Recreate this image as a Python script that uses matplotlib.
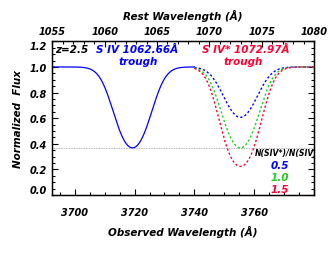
import numpy as np
import matplotlib
matplotlib.use("Agg")
import matplotlib.pyplot as plt
from matplotlib.ticker import MultipleLocator, FixedLocator

# ---- data ----
z = 2.5
rest_siv = 1062.66
rest_sivstar = 1072.97
tau_siv = 1.0                 # S IV trough minimum flux ~0.37
ratios = [0.5, 1.0, 1.5]      # N(SIV*)/N(SIV)
ratio_labels = ["0.5", "1.0", "1.5"]
ratio_colors = ["#0000ff", "#22cc22", "#ff0033"]
b_width = 7.0                 # Doppler-like width in observed Angstrom
obs_min, obs_max = 3692.5, 3780.0
split_obs = 3740.0
ref_level = 0.368
yticks = [0.0, 0.2, 0.4, 0.6, 0.8, 1.0, 1.2]
xticks_obs = [3700, 3720, 3740, 3760, 3780]
xticks_rest = [1055, 1060, 1065, 1070, 1075, 1080]

plt.rcParams['font.family'] = ["DejaVu Sans"]
plt.rcParams['font.weight'] = 'bold'
plt.rcParams['font.style'] = 'oblique'
plt.rcParams['axes.labelweight'] = 'bold'

fig = plt.figure(figsize=(3.3, 2.55), dpi=100)
ax = fig.add_axes([0.1585, 0.2314, 0.793, 0.6026])

c1 = rest_siv * (1 + z)
c2 = rest_sivstar * (1 + z)

w1 = np.linspace(obs_min, split_obs, 400)
f1 = np.exp(-tau_siv * np.exp(-((w1 - c1) / b_width) ** 2))
ax.plot(w1, f1, color="#0000ff", lw=0.9)

w2 = np.linspace(split_obs, obs_max, 400)
for r, col in zip(ratios, ratio_colors):
    f2 = np.exp(-tau_siv * r * np.exp(-((w2 - c2) / b_width) ** 2))
    ax.plot(w2, f2, color=col, lw=1.0, ls=(0, (1.6, 1.6)))

ax.axhline(ref_level, color="#999999", lw=0.6, ls=(0, (1, 1)), zorder=0)

ax.set_xlim(obs_min, obs_max)
ax.set_ylim(0, 1.2)
ax.xaxis.set_major_locator(FixedLocator(xticks_obs))
ax.xaxis.set_minor_locator(MultipleLocator(5))
ax.yaxis.set_major_locator(FixedLocator(yticks))
ax.yaxis.set_minor_locator(MultipleLocator(0.05))
ax.set_xticklabels([str(t) if t != 3780 else "" for t in xticks_obs])
ax.set_yticklabels(["%.1f" % t for t in yticks])
ax.tick_params(which='both', direction='in', top=False, right=True, labelsize=7, width=0.8)
ax.tick_params(which='major', length=4)
ax.tick_params(which='minor', length=2)
ax.tick_params(axis='x', pad=9)
ax.tick_params(axis='y', pad=4)
for s in ax.spines.values():
    s.set_linewidth(1.0)

ylabs = ax.get_yticklabels()
ylabs[0].set_va('bottom')
ylabs[-1].set_va('top')

ax.set_xlabel("Observed Wavelength (Å)", fontsize=7.5, labelpad=5)
ax.set_ylabel("Normalized  Flux", fontsize=7.5, labelpad=5)

ax2 = ax.twiny()
ax2.set_xlim(obs_min / (1 + z), obs_max / (1 + z))
ax2.xaxis.set_major_locator(FixedLocator(xticks_rest))
ax2.xaxis.set_minor_locator(MultipleLocator(1))
ax2.set_xticklabels([str(t) for t in xticks_rest])
ax2.tick_params(which='both', direction='in', labelsize=7, width=0.8, pad=4)
ax2.tick_params(which='major', length=4)
ax2.tick_params(which='minor', length=2)
ax2.set_xlabel("Rest Wavelength (Å)", fontsize=7.5, labelpad=5)

ax.text(3693.3, 1.14, "z=2.5", color="black", fontsize=7.5, va='center', ha='left')
ax.text(3720.9, 1.14, "S IV 1062.66Å", color="#0000ff", fontsize=7.5, va='center', ha='center')
ax.text(3721.2, 1.045, "trough", color="#0000ff", fontsize=7.5, va='center', ha='center')
ax.text(3757.3, 1.14, "S IV* 1072.97Å", color="#ff0033", fontsize=7.5, va='center', ha='center')
ax.text(3756.3, 1.045, "trough", color="#ff0033", fontsize=7.5, va='center', ha='center')

ax.text(3760.3, 0.328, "N(SIV*)/N(SIV)", color="black", fontsize=5.6, va='center', ha='left', clip_on=True)
label_y = [0.238, 0.141, 0.047]
for lab, col, yy in zip(ratio_labels, ratio_colors, label_y):
    ax.text(3768.6, yy, lab, color=col, fontsize=7.5, va='center', ha='center')

fig.savefig("out.png", dpi=100)
